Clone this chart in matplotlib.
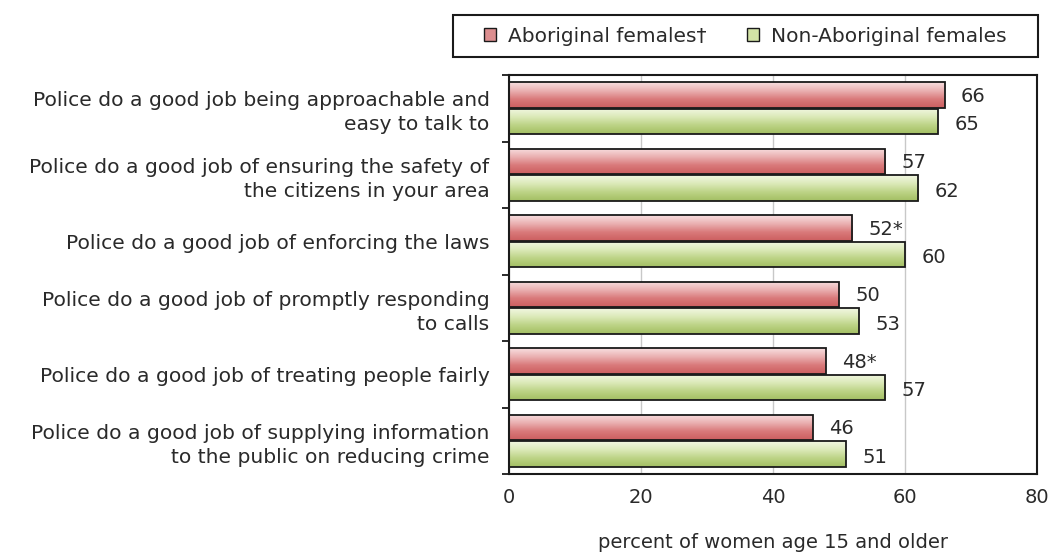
import numpy as np
import matplotlib
matplotlib.use("Agg")
import matplotlib.pyplot as plt
import matplotlib.patches as pat
from matplotlib.colors import LinearSegmentedColormap

categories = [
    "Police do a good job being approachable and\neasy to talk to",
    "Police do a good job of ensuring the safety of\nthe citizens in your area",
    "Police do a good job of enforcing the laws",
    "Police do a good job of promptly responding\nto calls",
    "Police do a good job of treating people fairly",
    "Police do a good job of supplying information\nto the public on reducing crime",
]
aboriginal = [66, 57, 52, 50, 48, 46]
non_aboriginal = [65, 62, 60, 53, 57, 51]
aboriginal_labels = ["66", "57", "52*", "50", "48*", "46"]
non_aboriginal_labels = ["65", "62", "60", "53", "57", "51"]
series_names = ["Aboriginal females\u2020", "Non-Aboriginal females"]
xlabel = "percent of women age 15 and older"

plt.rcParams['font.family'] = ['DejaVu Sans']
txt = "#2a2a2a"
fs = 14

fig = plt.figure(figsize=(10.54, 5.52), dpi=100)
ax = fig.add_axes([509 / 1054, 1 - 474 / 552, (1037 - 509) / 1054, (474 - 75) / 552])

n = len(categories)
y = np.arange(n)
h = 0.38

red_cmap = LinearSegmentedColormap.from_list("r", ["#f8dfe0", "#eab0b1", "#d9797a", "#cc5f5f"])
green_cmap = LinearSegmentedColormap.from_list("g", ["#f2f7e2", "#dbe9b8", "#bcd385", "#a3bf63"])

bars_a = ax.barh(y - h / 2 - 0.01, aboriginal, height=h, facecolor="none",
                 edgecolor="#1a1a1a", linewidth=1.3, zorder=3)
bars_n = ax.barh(y + h / 2 + 0.01, non_aboriginal, height=h, facecolor="none",
                 edgecolor="#1a1a1a", linewidth=1.3, zorder=3)

grad = np.linspace(0, 1, 64).reshape(-1, 1)
for bars, cmap in [(bars_a, red_cmap), (bars_n, green_cmap)]:
    for b in bars:
        x0, y0 = b.get_x(), b.get_y()
        w, hh = b.get_width(), b.get_height()
        im = ax.imshow(grad, cmap=cmap, aspect="auto", extent=[x0, x0 + w, y0 + hh, y0],
                       zorder=2.5, interpolation="bicubic")
        im.set_clip_path(b)

for b, lab in zip(bars_a, aboriginal_labels):
    ax.text(b.get_width() + 2.5, b.get_y() + b.get_height() / 2 + 0.02, lab,
            va="center", ha="left", fontsize=fs, color=txt, zorder=4)
for b, lab in zip(bars_n, non_aboriginal_labels):
    ax.text(b.get_width() + 2.5, b.get_y() + b.get_height() / 2 + 0.05, lab,
            va="center", ha="left", fontsize=fs, color=txt, zorder=4)

ax.set_xlim(0, 80)
ax.set_ylim(n - 0.5, -0.5)
ax.set_xticks([0, 20, 40, 60, 80])
ax.tick_params(axis="x", length=0, pad=10, labelsize=fs, colors=txt)
ax.set_yticks(np.arange(n + 1) - 0.5, minor=True)
ax.set_yticks(y)
ax.set_yticklabels(categories, fontsize=14.6, color=txt, linespacing=1.35)
ax.tick_params(axis="y", which="major", length=0, pad=14)
ax.tick_params(axis="y", which="minor", length=5, width=1.3, color="#1a1a1a")
ax.xaxis.grid(True, color="#c8c8c8", linewidth=1, zorder=0)
ax.set_axisbelow(True)
for s in ax.spines.values():
    s.set_linewidth(1.5)
    s.set_color("#1a1a1a")
ax.set_xlabel(xlabel, fontsize=fs, color=txt, labelpad=19)

# legend box drawn separately so its padding matches the original
box = pat.Rectangle((453 / 1054, 1 - 57 / 552), (1038 - 453) / 1054, 42 / 552,
                    transform=fig.transFigure, facecolor="white", edgecolor="#1a1a1a",
                    linewidth=1.5, zorder=1)
fig.patches.append(box)

handles = [pat.Patch(facecolor="#dc8e8f", edgecolor="#1a1a1a", linewidth=1),
           pat.Patch(facecolor="#d3e3a6", edgecolor="#1a1a1a", linewidth=1)]
leg = fig.legend(handles, series_names, loc="center", bbox_to_anchor=(745.5 / 1054, 1 - 36 / 552),
                 ncol=2, fontsize=14.5, frameon=False,
                 handlelength=0.6, handleheight=0.6, handletextpad=0.6, columnspacing=2.0,
                 borderpad=0, borderaxespad=0)
for t in leg.get_texts():
    t.set_color(txt)

fig.savefig("out.png", dpi=100)
